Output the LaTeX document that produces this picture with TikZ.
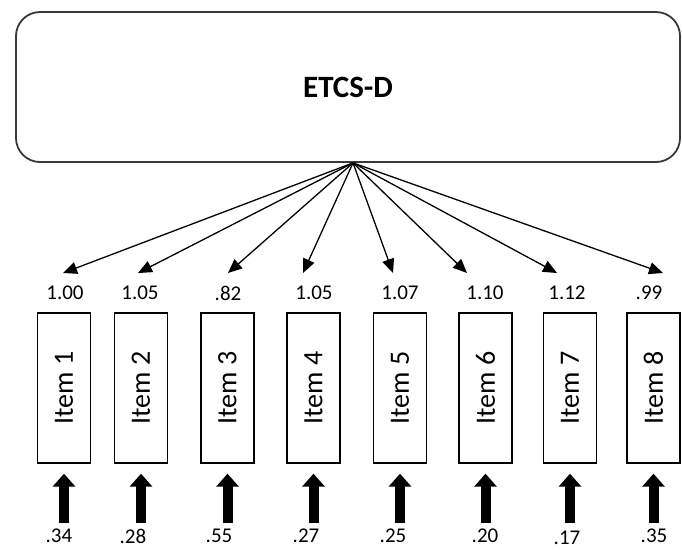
\documentclass[tikz,border=0pt]{standalone}
\usepackage{fontspec}
\setmainfont{Carlito}
\usetikzlibrary{arrows.meta}
\begin{document}
\begin{tikzpicture}[x=1pt,y=-1pt,
  factorbox/.style={draw=black!78,line width=1.8pt,rounded corners=24pt,
    minimum width=664pt,minimum height=150pt,inner sep=0pt,
    font=\fontsize{31}{31}\selectfont\bfseries},
  itembox/.style={draw,line width=1.3pt,minimum width=53pt,minimum height=150pt,
    inner sep=0pt,font=\fontsize{28}{28}\selectfont},
  loadlabel/.style={inner sep=0pt,font=\fontsize{21}{21}\selectfont},
  errlabel/.style={inner sep=0pt,font=\fontsize{21}{21}\selectfont},
  loadarrow/.style={line width=1.3pt,-{Triangle[length=14pt,width=12pt]}},
  errarrow/.style={line width=10pt,-{Triangle[length=13pt,width=22pt]},shorten >=10pt}]
\useasboundingbox (0,0) rectangle (682,550);

% latent factor
\node[factorbox] (f) at (348,87) {ETCS-D};
\coordinate (apex) at ([xshift=5pt]f.south);

% indicators, loadings and error variances
\foreach \i/\x/\tx/\lx/\ld/\ex/\ey/\ev in {
  1/64/63/65/1.00/59/536/.34,
  2/141/138/140/1.05/133/536/.28,
  3/227.5/228/228/.82/219/536/.55,
  4/313.5/303/314/1.05/306/536/.27,
  5/400/393/400/1.07/393/536/.25,
  6/485.5/467/485/1.10/485/536/.20,
  7/570/557/567/1.12/567/538/.17,
  8/653.5/663/649/.99/654/536/.35} {
  \node[itembox] (i\i) at (\x,388) {\rotatebox{90}{Item \i}};
  \node[loadlabel] (l\i) at (\lx,293) {\ld};
  \coordinate (t\i) at (\tx,273);
  \draw[loadarrow] (apex) -- (t\i);
  \coordinate (e\i) at (\x,523);
  \draw[errarrow] (e\i) -- (i\i.south);
  \node[errlabel] (v\i) at (\ex,\ey) {\ev};
}
\end{tikzpicture}
\end{document}
